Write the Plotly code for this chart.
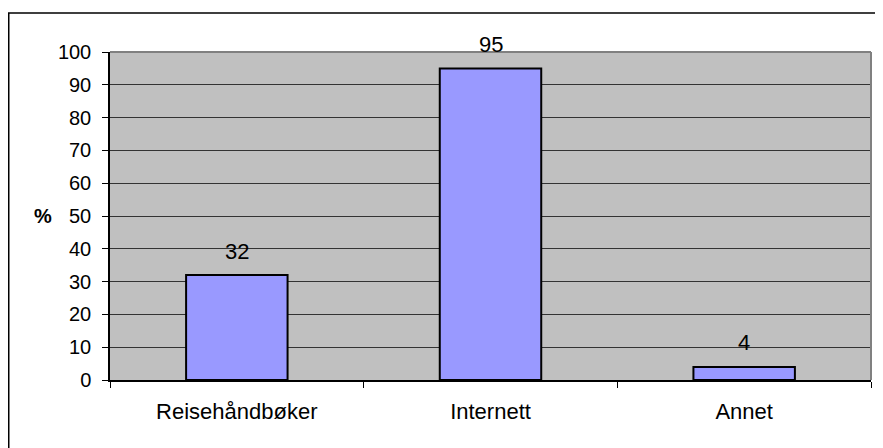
import plotly.graph_objects as go

categories = ["Reisehåndbøker", "Internett", "Annet"]
values = [32, 95, 4]
y_ticks = list(range(0, 101, 10))
y_title = "%"

# the page body adds an 8px margin, so the figure is 8px smaller than the window
W, H = 875, 440
ML, MR, MT, MB = 102, 12, 44, 68
PW, PH = W - ML - MR, H - MT - MB

fig = go.Figure()
fig.add_trace(go.Bar(
    x=categories, y=values, width=0.4,
    marker=dict(color="#9999FF", line=dict(color="#000000", width=2)),
    hoverinfo="skip",
))

for c, v in zip(categories, values):
    fig.add_annotation(x=c, y=v, text=str(v), showarrow=False,
                       yanchor="middle", yshift=24,
                       font=dict(family="Liberation Sans, Arial", size=22, color="#000"))

fig.add_annotation(xref="paper", yref="paper", x=(34.5 - ML) / PW, y=(H - MB - 208) / PH,
                   text="<b>%s</b>" % y_title, showarrow=False,
                   xanchor="center", yanchor="middle",
                   font=dict(family="Liberation Sans, Arial", size=20, color="#000"))

# plot-area top/right border (gray)
fig.add_shape(type="line", xref="paper", yref="paper", x0=0, x1=1, y0=1, y1=1,
              line=dict(color="#808080", width=2), layer="above")
fig.add_shape(type="line", xref="paper", yref="paper", x0=1, x1=1, y0=0, y1=1,
              line=dict(color="#808080", width=2), layer="above")
# outer chart frame
fig.add_shape(type="rect", xref="paper", yref="paper",
              x0=(0.75 - ML) / PW, x1=(W + 20 - ML) / PW,
              y0=(H - MB - (H + 20)) / PH, y1=(H - MB - 5) / PH,
              line=dict(color="#000000", width=1.5), fillcolor="rgba(0,0,0,0)", layer="above")

fig.update_layout(
    width=W, height=H,
    margin=dict(l=ML, r=MR, t=MT, b=MB, pad=0),
    paper_bgcolor="#FFFFFF", plot_bgcolor="#C0C0C0",
    showlegend=False, bargap=0.6,
    font=dict(family="Liberation Sans, Arial", color="#000"),
)
fig.update_xaxes(
    type="category", range=[-0.5, 2.5],
    showline=True, linecolor="#000000", linewidth=1.5,
    ticks="outside", ticklen=6, tickcolor="#000000", tickwidth=1,
    tickson="boundaries", showgrid=False,
    tickfont=dict(size=22, family="Liberation Sans, Arial"),
    ticklabelstandoff=11,
)
fig.update_yaxes(
    range=[0, 100], tickvals=y_ticks, ticktext=[str(t) for t in y_ticks],
    showline=True, linecolor="#000000", linewidth=1.5,
    ticks="outside", ticklen=6, tickcolor="#000000", tickwidth=1,
    showgrid=True, gridcolor="#333333", gridwidth=1, zeroline=False,
    tickfont=dict(size=20, family="Liberation Sans, Arial"),
    ticklabelstandoff=7,
)

fig.write_html("out.html")
